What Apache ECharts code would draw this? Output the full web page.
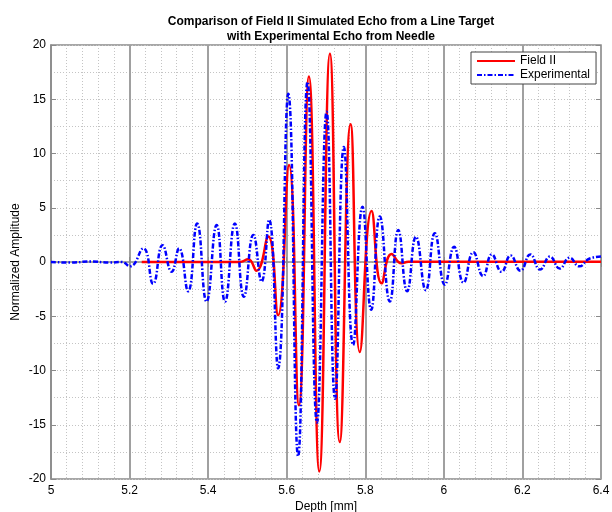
<!DOCTYPE html>
<html><head><meta charset="utf-8">
<script src="https://cdn.jsdelivr.net/npm/echarts@6/dist/echarts.min.js"></script>
<style>html,body{margin:0;padding:0;background:#fff}#c{width:612px;height:512px}</style>
</head><body><div id="c"></div>
<script>
const titleText = 'Comparison of Field II Simulated Echo from a Line Target\nwith Experimental Echo from Needle';
const xName = 'Depth [mm]';
const yName = 'Normalized Amplitude';
const seriesNames = ['Field II', 'Experimental'];

// Field II (red) extrema
const fieldX = [5.231, 5.48, 5.502, 5.523, 5.553, 5.578, 5.606, 5.631, 5.6565, 5.683, 5.710, 5.735, 5.7626, 5.786, 5.816, 5.8415, 5.867, 5.892, 5.91, 6.4];
const fieldY = [0, 0, 0.25, -0.8, 2.35, -4.9, 8.94, -13.2, 17.1, -19.3, 19.2, -16.6, 12.7, -8.3, 4.7, -1.97, 0.74, -0.12, 0.02, 0.02];

// Experimental (blue) extrema
const expX = [5.0, 5.05, 5.1, 5.15, 5.18, 5.201, 5.235, 5.26, 5.284, 5.307, 5.326, 5.349, 5.372, 5.396, 5.4216, 5.443, 5.468, 5.491, 5.515, 5.536, 5.555, 5.578, 5.604, 5.629, 5.653, 5.677, 5.7015, 5.723, 5.7455, 5.769, 5.793, 5.815, 5.837, 5.8626, 5.884, 5.9066, 5.929, 5.954, 5.977, 6.0025, 6.026, 6.05, 6.075, 6.1, 6.122, 6.147, 6.17, 6.195, 6.22, 6.245, 6.27, 6.295, 6.32, 6.345, 6.37, 6.4];
const expY = [0, -0.05, 0.05, -0.05, 0, -0.4, 1.25, -2.0, 1.55, -0.9, 1.25, -2.7, 3.55, -3.65, 3.4, -3.65, 3.55, -3.2, 2.5, -1.8, 3.9, -9.8, 15.5, -17.9, 16.6, -14.8, 13.85, -12.6, 10.6, -7.65, 5.1, -4.4, 4.2, -3.65, 2.95, -2.7, 2.33, -2.6, 2.65, -2.1, 1.4, -1.9, 0.9, -1.3, 0.7, -0.9, 0.6, -0.8, 0.7, -0.7, 0.5, -0.6, 0.4, -0.4, 0.3, 0.5];

const xMin = 5, xMax = 6.4, xStep = 0.2;
const yMin = -20, yMax = 20, yStep = 5;

const pair = (xs, ys) => xs.map((x, i) => [x, ys[i]]);
const font = 'Liberation Sans, Arial, sans-serif';
const gray = '#8a8a8a';

const chart = echarts.init(document.getElementById('c'), null, {renderer: 'canvas'});
chart.setOption({
  animation: false,
  backgroundColor: '#fff',
  title: {
    text: titleText, left: 326, top: 9, textAlign: 'center',
    textStyle: {fontFamily: font, fontSize: 12, fontWeight: 'bold', color: '#000', lineHeight: 15}
  },
  legend: {
    data: seriesNames, orient: 'vertical', left: 471, top: 52,
    backgroundColor: '#fff', borderColor: '#444', borderWidth: 1,
    padding: [3, 6, 3, 5], itemGap: 2, itemWidth: 38, itemHeight: 10,
    itemStyle: {opacity: 0},
    textStyle: {fontFamily: font, fontSize: 12, color: '#000'}
  },
  grid: {left: 51, right: 11, top: 45, bottom: 33, show: true, borderColor: gray, borderWidth: 1.5,
         containLabel: false, outerBoundsMode: 'none'},
  xAxis: [{
    type: 'value', min: xMin, max: xMax, interval: xStep,
    name: xName, nameLocation: 'middle', nameGap: 22, nameMoveOverlap: false,
    nameTextStyle: {fontFamily: font, fontSize: 12, color: '#000'},
    axisLine: {show: true, lineStyle: {color: gray, width: 1.5}},
    axisTick: {inside: true, length: 5, lineStyle: {color: gray}},
    axisLabel: {fontFamily: font, fontSize: 12, color: '#000', margin: 6},
    splitLine: {show: true, lineStyle: {color: '#a0a0a0', width: 2}},
    minorTick: {show: false, splitNumber: 5},
    minorSplitLine: {show: true, lineStyle: {color: '#c4c4c4', width: 1, type: [1, 2]}}
  }, {
    type: 'value', min: xMin, max: xMax, interval: xStep, position: 'top',
    axisLine: {show: false}, axisLabel: {show: false},
    axisTick: {inside: true, length: 5, lineStyle: {color: gray}}, splitLine: {show: false}
  }],
  yAxis: [{
    type: 'value', min: yMin, max: yMax, interval: yStep,
    name: yName, nameLocation: 'middle', nameGap: 29, nameMoveOverlap: false,
    nameTextStyle: {fontFamily: font, fontSize: 12, color: '#000'},
    axisLine: {show: true, lineStyle: {color: gray, width: 1.5}},
    axisTick: {inside: true, length: 5, lineStyle: {color: gray}},
    axisLabel: {fontFamily: font, fontSize: 12, color: '#000', margin: 5},
    splitLine: {show: true, lineStyle: {color: '#c4c4c4', width: 1, type: [1, 2]}},
    minorTick: {show: false, splitNumber: 2},
    minorSplitLine: {show: true, lineStyle: {color: '#c4c4c4', width: 1, type: [1, 2]}}
  }, {
    type: 'value', min: yMin, max: yMax, interval: yStep, position: 'right',
    axisLine: {show: false}, axisLabel: {show: false},
    axisTick: {inside: true, length: 5, lineStyle: {color: gray}}, splitLine: {show: false}
  }],
  series: [{
    name: seriesNames[0], type: 'line', data: pair(fieldX, fieldY),
    showSymbol: false, symbol: 'none', smooth: 0.5,
    lineStyle: {color: '#ff0000', width: 2.5}, itemStyle: {color: '#ff0000'}, z: 3
  }, {
    name: seriesNames[1], type: 'line', data: pair(expX, expY),
    showSymbol: false, symbol: 'none', smooth: 0.5,
    lineStyle: {color: '#0000ff', width: 2.5, type: [5, 2, 1.5, 2]}, itemStyle: {color: '#0000ff'}, z: 4
  }]
});
</script></body></html>
